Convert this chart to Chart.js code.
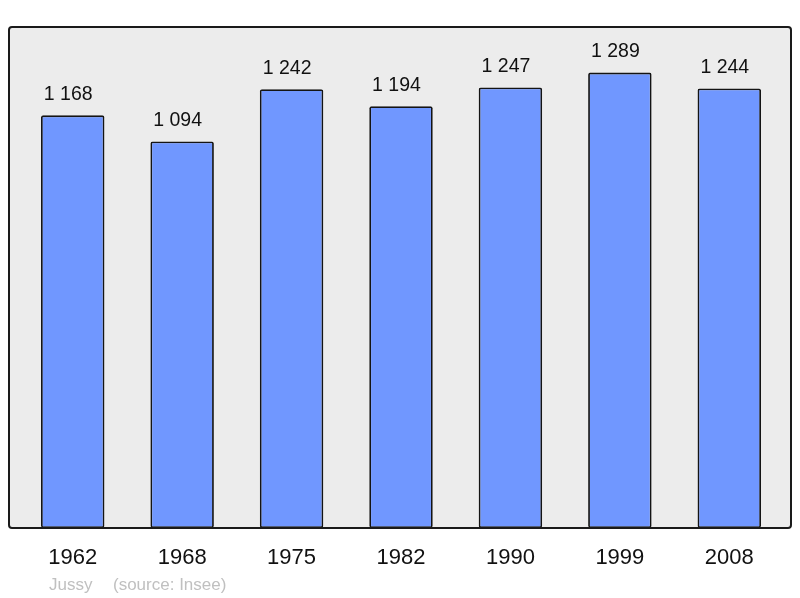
<!DOCTYPE html>
<html><head><meta charset="utf-8">
<script src="https://cdn.jsdelivr.net/npm/chart.js@4/dist/chart.umd.min.js"></script>
<style>html,body{margin:0;padding:0;background:#fff}#wrap{width:800px;height:598px}</style>
</head><body><div id="wrap"><canvas id="c" width="800" height="598"></canvas></div>
<script>
const years = ["1962","1968","1975","1982","1990","1999","2008"];
const population = [1168,1094,1242,1194,1247,1289,1244];
const placeName = "Jussy";
const sourceText = "(source: Insee)";

function fmt(v){ return String(v).replace(/\B(?=(\d{3})+(?!\d))/g, " "); }
function rr(ctx,x,y,w,h,r){ctx.beginPath();ctx.moveTo(x+r,y);ctx.lineTo(x+w-r,y);ctx.quadraticCurveTo(x+w,y,x+w,y+r);ctx.lineTo(x+w,y+h-r);ctx.quadraticCurveTo(x+w,y+h,x+w-r,y+h);ctx.lineTo(x+r,y+h);ctx.quadraticCurveTo(x,y+h,x,y+h-r);ctx.lineTo(x,y+r);ctx.quadraticCurveTo(x,y,x+r,y);ctx.closePath();}

const frame = {
  id:'frame',
  beforeDatasetsDraw(chart){
    const ctx=chart.ctx, a=chart.chartArea;
    ctx.save(); rr(ctx,9,a.top,782,a.bottom-a.top,3); ctx.fillStyle='#ececec'; ctx.fill(); ctx.restore();
  },
  afterDatasetsDraw(chart){
    const ctx=chart.ctx, a=chart.chartArea;
    ctx.save(); rr(ctx,9,a.top,782,a.bottom-a.top,3); ctx.lineWidth=2; ctx.strokeStyle='#1a1a1a'; ctx.stroke();
    const meta=chart.getDatasetMeta(0);
    ctx.fillStyle='#111'; ctx.font='19.5px "Liberation Sans", Arial, sans-serif'; ctx.textAlign='center'; ctx.textBaseline='middle';
    meta.data.forEach((el,i)=>{ ctx.fillText(fmt(population[i]), el.x-4.5, el.y-21); });
    ctx.fillStyle='#c0c0c0'; ctx.font='17px "Liberation Sans", Arial, sans-serif'; ctx.textAlign='left';
    ctx.fillText(placeName, 49, 585); ctx.fillText(sourceText, 113, 585);
    ctx.restore();
  }
};

new Chart(document.getElementById('c'),{
  type:'bar',
  data:{labels:years,datasets:[{data:population,backgroundColor:'#7097ff',borderColor:'#141414',borderWidth:1.8,borderRadius:2,borderSkipped:false,categoryPercentage:1,barPercentage:0.58}]},
  options:{
    responsive:false,animation:false,devicePixelRatio:1,
    layout:{padding:{top:27,left:18,right:16,bottom:0}},
    plugins:{legend:{display:false},tooltip:{enabled:false}},
    scales:{
      y:{display:false,min:0,max:1418},
      x:{grid:{display:false,drawTicks:false},border:{display:false},
         ticks:{color:'#111',padding:17,font:{family:'"Liberation Sans", Arial, sans-serif',size:22}},
         afterFit(s){s.height=70;}}
    }
  },
  plugins:[frame]
});
</script></body></html>
